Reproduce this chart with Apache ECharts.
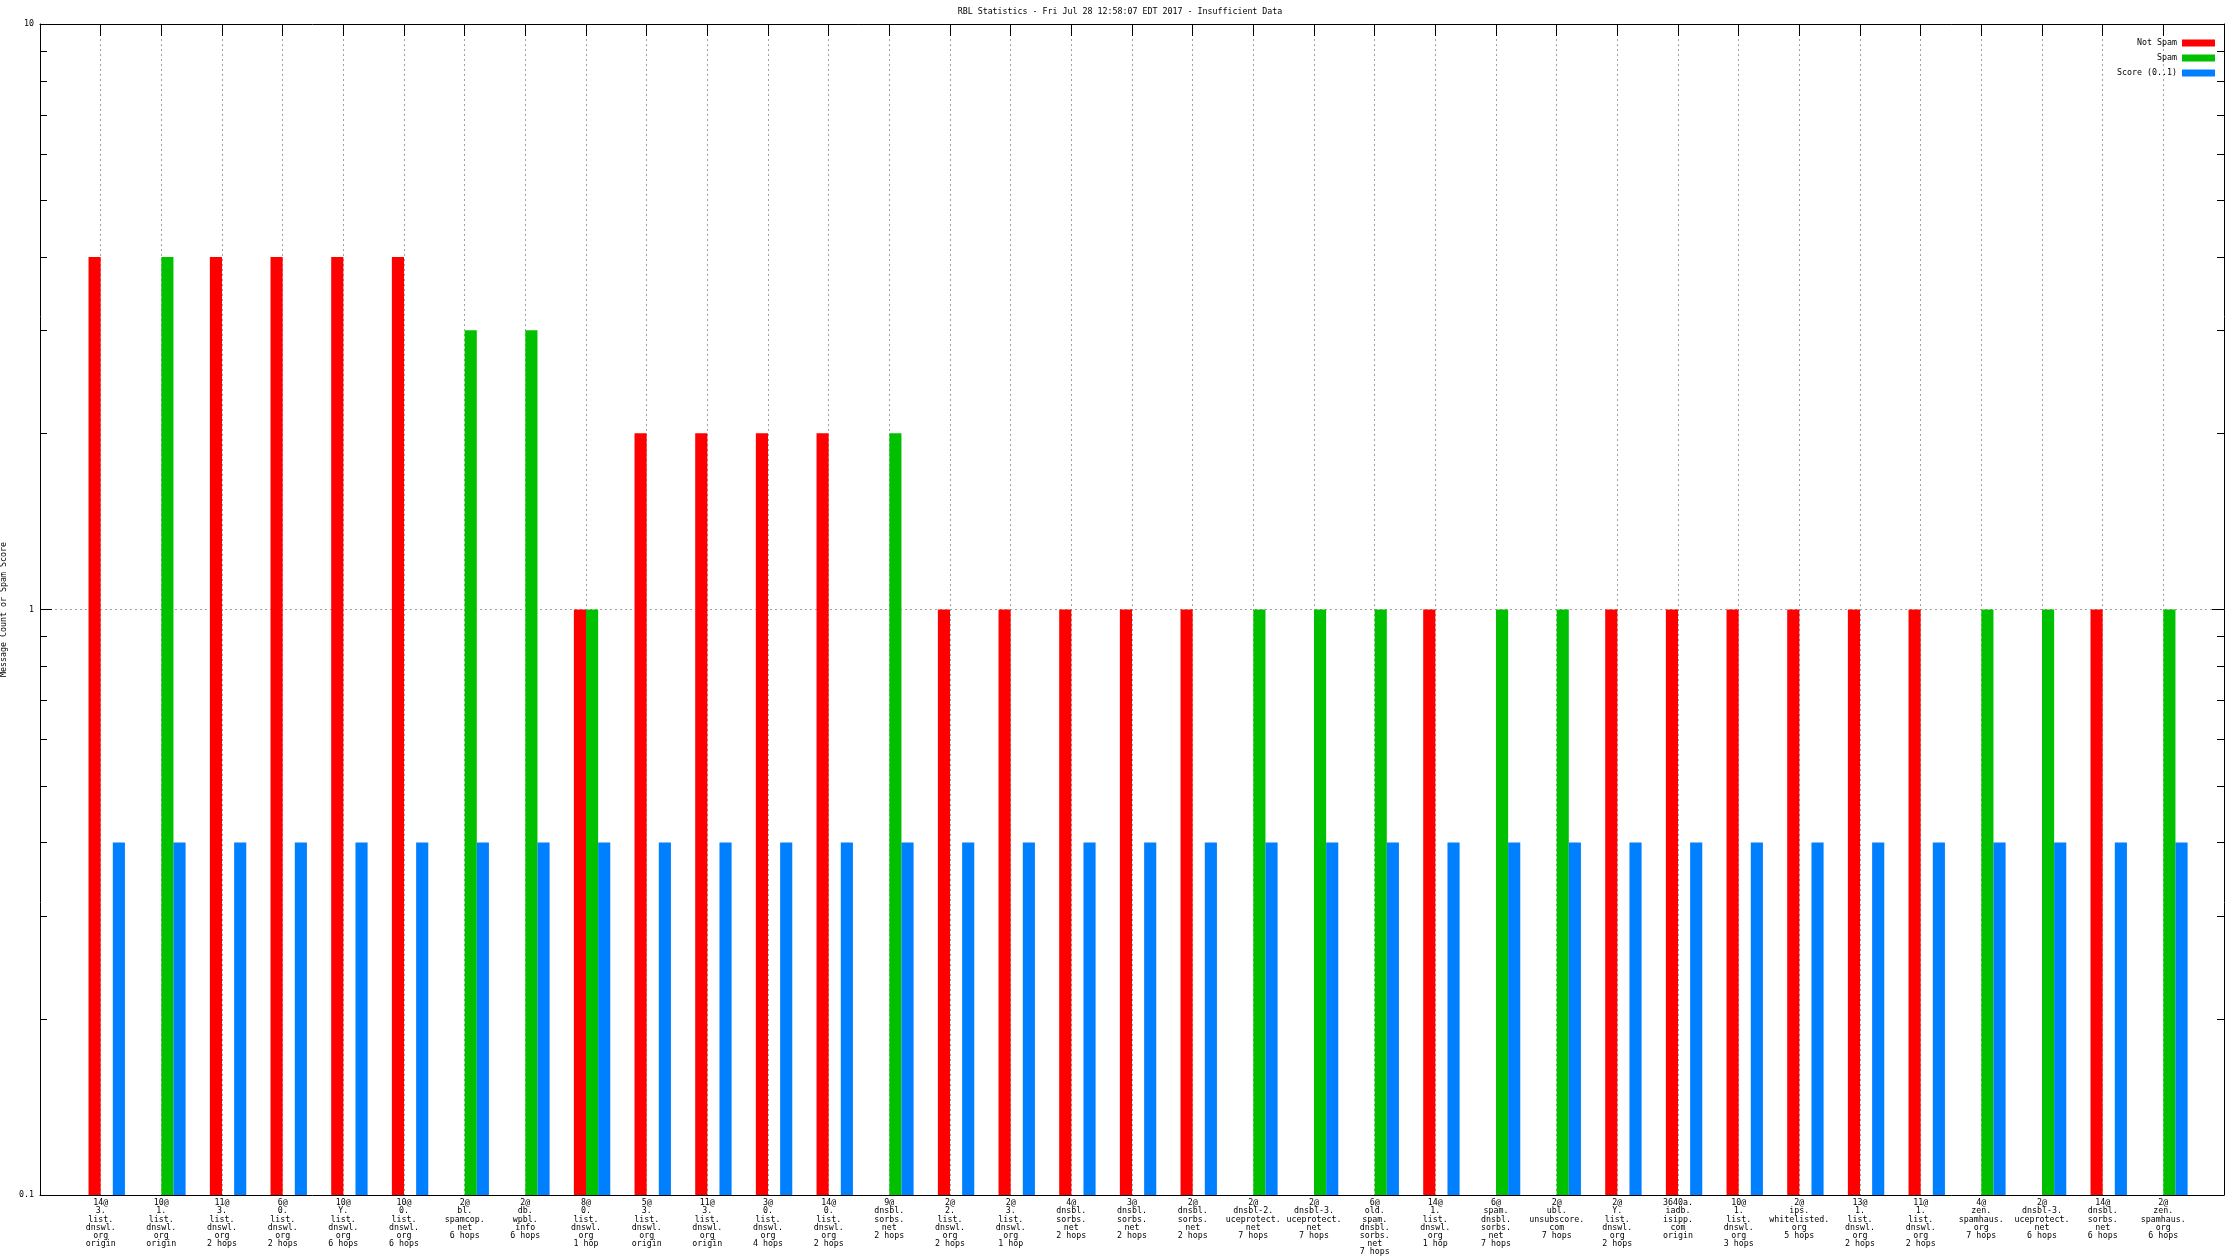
<!DOCTYPE html>
<html>
<head>
<meta charset="utf-8">
<script src="https://cdn.jsdelivr.net/npm/echarts@6/dist/echarts.min.js"></script>
<style>html,body{margin:0;padding:0;background:#fff}#c{width:2240px;height:1260px}</style>
</head>
<body>
<div id="c"></div>
<script>
const categories = [
  "14@\n3.\nlist.\ndnswl.\norg\norigin",
  "10@\n1.\nlist.\ndnswl.\norg\norigin",
  "11@\n3.\nlist.\ndnswl.\norg\n2 hops",
  "6@\n0.\nlist.\ndnswl.\norg\n2 hops",
  "10@\nY.\nlist.\ndnswl.\norg\n6 hops",
  "10@\n0.\nlist.\ndnswl.\norg\n6 hops",
  "2@\nbl.\nspamcop.\nnet\n6 hops",
  "2@\ndb.\nwpbl.\ninfo\n6 hops",
  "8@\n0.\nlist.\ndnswl.\norg\n1 hop",
  "5@\n3.\nlist.\ndnswl.\norg\norigin",
  "11@\n3.\nlist.\ndnswl.\norg\norigin",
  "3@\n0.\nlist.\ndnswl.\norg\n4 hops",
  "14@\n0.\nlist.\ndnswl.\norg\n2 hops",
  "9@\ndnsbl.\nsorbs.\nnet\n2 hops",
  "2@\n2.\nlist.\ndnswl.\norg\n2 hops",
  "2@\n3.\nlist.\ndnswl.\norg\n1 hop",
  "4@\ndnsbl.\nsorbs.\nnet\n2 hops",
  "3@\ndnsbl.\nsorbs.\nnet\n2 hops",
  "2@\ndnsbl.\nsorbs.\nnet\n2 hops",
  "2@\ndnsbl-2.\nuceprotect.\nnet\n7 hops",
  "2@\ndnsbl-3.\nuceprotect.\nnet\n7 hops",
  "6@\nold.\nspam.\ndnsbl.\nsorbs.\nnet\n7 hops",
  "14@\n1.\nlist.\ndnswl.\norg\n1 hop",
  "6@\nspam.\ndnsbl.\nsorbs.\nnet\n7 hops",
  "2@\nubl.\nunsubscore.\ncom\n7 hops",
  "2@\nY.\nlist.\ndnswl.\norg\n2 hops",
  "3640a.\niadb.\nisipp.\ncom\norigin",
  "10@\n1.\nlist.\ndnswl.\norg\n3 hops",
  "2@\nips.\nwhitelisted.\norg\n5 hops",
  "13@\n1.\nlist.\ndnswl.\norg\n2 hops",
  "11@\n1.\nlist.\ndnswl.\norg\n2 hops",
  "4@\nzen.\nspamhaus.\norg\n7 hops",
  "2@\ndnsbl-3.\nuceprotect.\nnet\n6 hops",
  "14@\ndnsbl.\nsorbs.\nnet\n6 hops",
  "2@\nzen.\nspamhaus.\norg\n6 hops"
];
const notSpam = [4,null,4,4,4,4,null,null,1,2,2,2,2,null,1,1,1,1,1,null,null,null,1,null,null,1,1,1,1,1,1,null,null,1,null];
const spam    = [null,4,null,null,null,null,3,3,1,null,null,null,null,2,null,null,null,null,null,1,1,1,null,1,1,null,null,null,null,null,null,1,1,null,1];
const score   = [0.4,0.4,0.4,0.4,0.4,0.4,0.4,0.4,0.4,0.4,0.4,0.4,0.4,0.4,0.4,0.4,0.4,0.4,0.4,0.4,0.4,0.4,0.4,0.4,0.4,0.4,0.4,0.4,0.4,0.4,0.4,0.4,0.4,0.4,0.4];
const yTickLabels = ["0.1", "1", "10"];
const minorTickValues = [0.2,0.3,0.4,0.5,0.6,0.7,0.8,0.9,2,3,4,5,6,7,8,9];

const TITLE = "RBL Statistics - Fri Jul 28 12:58:07 EDT 2017 - Insufficient Data";
const FONT = "DejaVu Sans Mono";
const FS = 8.3;
const Y_MIN = 0.1, Y_MAX = 10;
const X_MIN = -1, X_MAX = categories.length;
const BAR_W = 0.2;

function toData(arr){ const out=[]; arr.forEach((v,i)=>{ if(v!=null) out.push([i,v]); }); return out; }

function barRender(offset){
  return function(params, api){
    const i = api.value(0), v = api.value(1);
    const p0 = api.coord([i + offset, v]);
    const p1 = api.coord([i + offset + BAR_W, Y_MIN]);
    return {type:'rect', shape:{x:p0[0], y:p0[1], width:p1[0]-p0[0], height:p1[1]-p0[1]},
      style:{fill: api.visual('color')}};
  };
}

const chart = echarts.init(document.getElementById('c'), null, {renderer:'canvas'});
const txt = {fontFamily: FONT, fontSize: FS, color: '#000'};
function legendFor(name, top){
  return {data:[name], right: 25, top: top, orient:'vertical', align:'right', itemWidth:33, itemHeight:7,
    icon:'rect', selectedMode:false, textStyle: txt, padding:0, itemGap:0};
}
const option = {
  animation:false,
  backgroundColor:'#fff',
  title:{text:TITLE, left:'center', top:3, textStyle:{fontFamily:FONT, fontSize:FS, fontWeight:'normal', color:'#000'}},
  legend:[legendFor('Not Spam',39), legendFor('Spam',54), legendFor('Score (0..1)',69)],
  grid:{left:40, right:16, top:24, bottom:65, containLabel:false, outerBoundsMode:'none'},
  xAxis:[
    {type:'value', min:X_MIN, max:X_MAX, interval:1, position:'bottom',
     axisLine:{show:true, onZero:false, lineStyle:{color:'#000', width:1}},
     axisTick:{show:false},
     splitLine:{show:true, lineStyle:{color:'#a0a0a0', type:[2,3], width:1}},
     axisLabel:{show:true, margin:4, lineHeight:8.2, fontFamily:FONT, fontSize:FS, color:'#000',
       showMinLabel:true, showMaxLabel:true, hideOverlap:false,
       formatter:(v)=> (Number.isInteger(v) && v>=0 && v<categories.length) ? categories[v] : ''}},
    {type:'value', min:X_MIN, max:X_MAX, interval:1, position:'top',
     axisLine:{show:true, onZero:false, lineStyle:{color:'#000', width:1}},
     axisTick:{show:true, inside:true, length:12, lineStyle:{color:'#000'}},
     splitLine:{show:false}, axisLabel:{show:false}}
  ],
  yAxis:[
    {type:'log', logBase:10, min:Y_MIN, max:Y_MAX, position:'left',
     name:'Message Count or Spam Score', nameLocation:'middle', nameGap:26, nameRotate:90,
     nameTextStyle:{fontFamily:FONT, fontSize:FS, color:'#000'},
     axisLine:{show:true, onZero:false, lineStyle:{color:'#000', width:1}},
     axisTick:{show:true, inside:true, length:12, lineStyle:{color:'#000'}},
     splitLine:{show:true, lineStyle:{color:'#a0a0a0', type:[2,3], width:1}},
     axisLabel:{margin:6, fontFamily:FONT, fontSize:FS, color:'#000',
       formatter:(v)=>{ const s = yTickLabels.find(t=>Math.abs(parseFloat(t)-v)<1e-9); return s||''; }}},
    {type:'log', logBase:10, min:Y_MIN, max:Y_MAX, position:'right',
     axisLine:{show:true, onZero:false, lineStyle:{color:'#000', width:1}},
     axisTick:{show:true, inside:true, length:12, lineStyle:{color:'#000'}},
     splitLine:{show:false}, axisLabel:{show:false}}
  ],
  series:[
    {name:'Not Spam', type:'custom', xAxisIndex:0, yAxisIndex:0, itemStyle:{color:'#ff0000'},
     encode:{x:0,y:1}, data:toData(notSpam), renderItem:barRender(-BAR_W), z:3},
    {name:'Spam', type:'custom', xAxisIndex:0, yAxisIndex:0, itemStyle:{color:'#00c000'},
     encode:{x:0,y:1}, data:toData(spam), renderItem:barRender(0), z:3},
    {name:'Score (0..1)', type:'custom', xAxisIndex:0, yAxisIndex:0, itemStyle:{color:'#0080ff'},
     encode:{x:0,y:1}, data:toData(score), renderItem:barRender(BAR_W), z:3},
    {name:'minorTicks', type:'custom', xAxisIndex:0, yAxisIndex:0, silent:true, z:5,
     encode:{x:0,y:1}, data:minorTickValues.map(v=>[0,v]),
     renderItem:function(params, api){
       const cs = params.coordSys;
       const y = Math.round(api.coord([0, api.value(1)])[1]) + 0.5;
       return {type:'group', children:[
         {type:'line', shape:{x1:cs.x, y1:y, x2:cs.x+7, y2:y}, style:{stroke:'#000', lineWidth:1}},
         {type:'line', shape:{x1:cs.x+cs.width, y1:y, x2:cs.x+cs.width-7, y2:y}, style:{stroke:'#000', lineWidth:1}}
       ]};
     }}
  ]
};
chart.setOption(option);
</script>
</body>
</html>
